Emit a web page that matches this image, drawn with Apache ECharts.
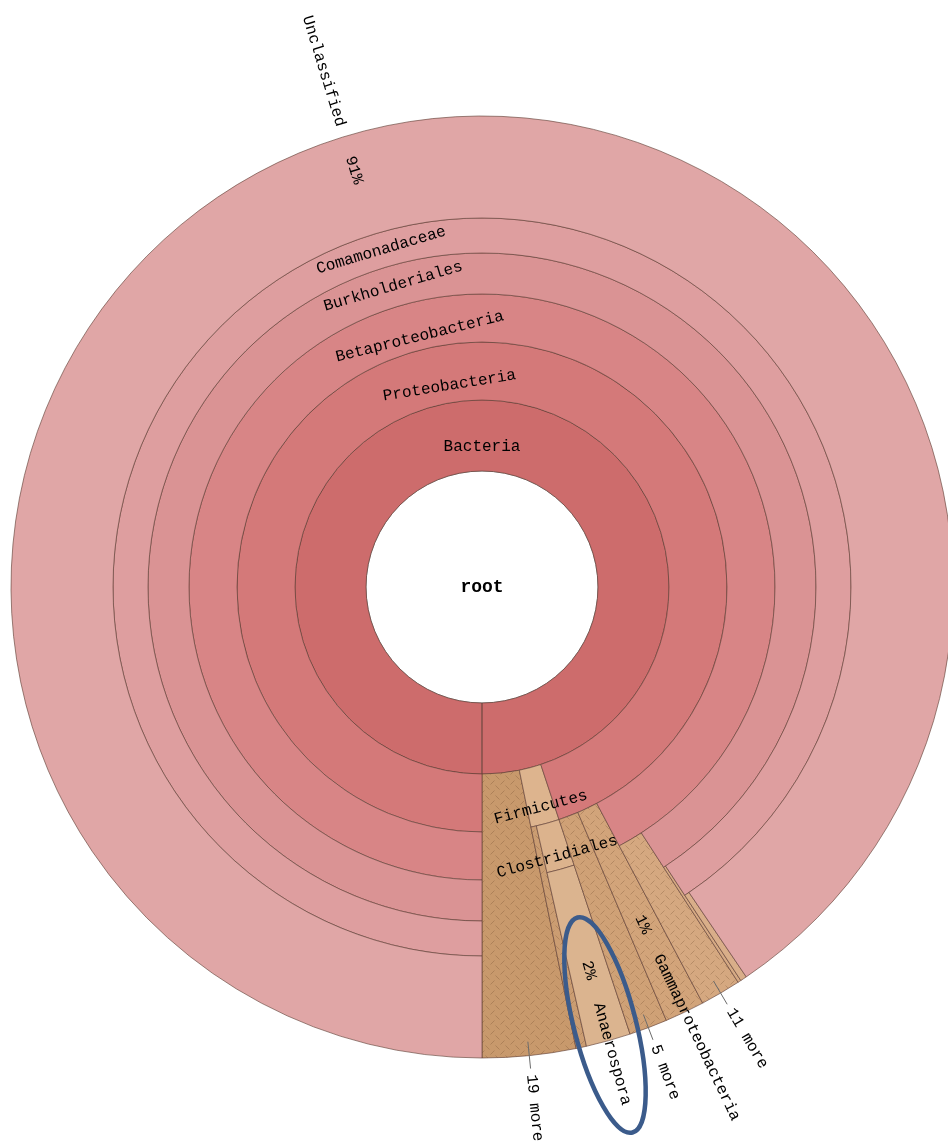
<!DOCTYPE html>
<html>
<head>
<meta charset="utf-8">
<script src="https://cdn.jsdelivr.net/npm/echarts@6/dist/echarts.min.js"></script>
<style>
html,body{margin:0;padding:0;background:#ffffff;}
#chart{width:948px;height:1144px;}
</style>
</head>
<body>
<div id="chart"></div>
<script>
// ---------------- DATA (Krona-style taxonomy, values in per-mille of all reads) ----------------
const nodeNames   = ['root','Bacteria','19 more','Firmicutes','','Clostridiales','Anaerospora',
                     'Proteobacteria','5 more','Gammaproteobacteria','Betaproteobacteria','11 more',
                     'Burkholderiales','','Comamonadaceae','','Unclassified'];
const nodeParents = [-1, 0, 1, 1, 3, 3, 5, 1, 7, 7, 7, 10, 10, 12, 12, 14, 14];
// magnitude of each leaf (internal nodes are the sum of their children)
const leafValues  = [null, null, 32.0, null, 3.6, null, 15.3, null, 13.1, 13.6, null, 13.9,
                     null, 1.1, null, 2.2, 905.2];
// wedges that stand for collapsed groups of small taxa ("N more")
const groupedNodes = [false,false,true,false,true,false,false,false,true,false,false,true,
                      false,false,false,false,false];

// ---------------- STYLE / LAYOUT CONFIG ----------------
const FONT = '"Liberation Mono", "DejaVu Sans Mono", monospace';
const R_OUT = 471;
const RINGS = [0, 116, 187, 245, 293, 334, 369];   // inner radius of each depth
const LABEL_SHIFT = [0, 11, 12, 11, 0, 0, 0];       // tangential label drop per depth
const BORDER = 'rgba(95,62,52,0.62)';
const nodeColors = ['#ffffff','#cd6c6c','#c8996c','#ddb48e','#cb9d72','#dcb38d','#dbb48f',
                    '#d47979','#cfa176','#d2a47a','#d88586','#d5a880',
                    '#da9394','#d6aa84','#de9e9f','#d9ae89','#e0a6a6'];
const hatchNodes = [false,false,true,false,true,false,false,false,true,true,false,true,
                    false,false,false,false,false];

// ---------------- BUILD TREE LAYOUT VALUES ----------------
const N = nodeNames.length;
const children = nodeNames.map(() => []);
nodeParents.forEach((p, i) => { if (p >= 0) children[p].push(i); });
const depth = new Array(N), value = new Array(N), start = new Array(N);
(function setDepth(i, d) { depth[i] = d; children[i].forEach(c => setDepth(c, d + 1)); })(0, 0);
(function sum(i) {
  if (!children[i].length) return (value[i] = leafValues[i]);
  let s = 0; children[i].forEach(c => { s += sum(c); }); return (value[i] = s);
})(0);
(function place(i, a) {
  start[i] = a; let acc = a;
  children[i].forEach(c => { place(c, acc); acc += value[c]; });
})(0, 0);
const TOTAL = value[0];

function makeHatch() {
  const c = document.createElement('canvas');
  c.width = 10; c.height = 10;
  const g = c.getContext('2d');
  g.strokeStyle = 'rgba(105,68,40,0.28)';
  g.lineWidth = 1;
  g.beginPath();
  g.moveTo(0.5, 4.5); g.lineTo(4.5, 0.5);
  g.moveTo(5.5, 5.5); g.lineTo(9.5, 9.5);
  g.stroke();
  return c;
}
const hatchImg = makeHatch();

const seriesData = nodeNames.map((n, i) => ({
  name: n,
  value: [start[i], start[i] + value[i], depth[i], children[i].length ? 0 : 1, i]
}));

function txt(x, y, rot, text, align) {
  return {
    type: 'text', x: x, y: y, rotation: rot, silent: true, z2: 100,
    style: { text: text, x: 0, y: 0, fill: '#000', fontSize: 16, fontFamily: FONT,
             align: align, verticalAlign: 'middle' }
  };
}

function renderItem(params, api) {
  const i = api.value(4);
  const a0 = api.value(0), a1 = api.value(1), d = api.value(2), leaf = api.value(3) === 1;
  const cx = params.coordSys.cx, cy = params.coordSys.cy;
  const ang = a => { const p = api.coord([R_OUT, a]); return Math.atan2(p[1] - cy, p[0] - cx); };
  const rad = r => { const p = api.coord([r, 0]); return Math.hypot(p[0] - cx, p[1] - cy); };
  const els = [];
  if (d === 0) {
    els.push({ type: 'circle', shape: { cx: cx, cy: cy, r: rad(RINGS[1]) },
               style: { fill: '#ffffff', stroke: '#8a8a8a', lineWidth: 1 } });
    const t = txt(cx, cy, 0, nodeNames[i], 'center');
    t.style.fontSize = 18; t.style.fontWeight = 'bold';
    els.push(t);
    return { type: 'group', children: els };
  }
  let sa = ang(a0), ea = ang(a1);
  if (a1 - a0 >= TOTAL - 1e-9) ea = sa - 2 * Math.PI + 0.0005;
  else { while (ea >= sa) ea -= 2 * Math.PI; while (ea < sa - 2 * Math.PI) ea += 2 * Math.PI; }
  const r0 = rad(RINGS[d]);
  const r1 = leaf ? rad(R_OUT) : rad(RINGS[d + 1] != null ? RINGS[d + 1] : R_OUT);
  const shape = { cx: cx, cy: cy, r0: r0, r: r1, startAngle: sa, endAngle: ea, clockwise: false };
  els.push({ type: 'sector', shape: shape, style: { fill: nodeColors[i], stroke: BORDER, lineWidth: 1 } });
  if (hatchNodes[i]) {
    els.push({ type: 'sector', shape: Object.assign({}, shape),
               style: { fill: { image: hatchImg, repeat: 'repeat' }, stroke: null } });
  }
  const name = nodeNames[i];
  if (!name) return { type: 'group', children: els };
  const phi = ang((a0 + a1) / 2);
  const cosP = Math.cos(phi), sinP = Math.sin(phi);
  const at = r => [cx + r * cosP, cy + r * sinP];
  if (!leaf) {
    const rm = (r0 + r1) / 2;
    let dir = phi + Math.PI / 2;
    if (Math.cos(dir) < 0) dir += Math.PI;
    const p = at(rm);
    const t = txt(p[0], p[1], -dir, name, 'center');
    t.style.y = LABEL_SHIFT[d];
    els.push(t);
    return { type: 'group', children: els };
  }
  // radial labels for leaves
  let dir = phi, flip = false;
  if (Math.cos(dir) < 0) { dir += Math.PI; flip = true; }
  const arcLen = (a1 - a0) / TOTAL * 2 * Math.PI * 460;
  if (groupedNodes[i]) {
    if (arcLen < 14) return { type: 'group', children: els };
    const pA = at(rad(457)), pB = at(rad(484));
    els.push({ type: 'line', silent: true, z2: 100, shape: { x1: pA[0], y1: pA[1], x2: pB[0], y2: pB[1] },
               style: { stroke: '#6b6b6b', lineWidth: 1 } });
    const p = at(rad(490));
    els.push(txt(p[0], p[1], -dir, name, flip ? 'right' : 'left'));
    return { type: 'group', children: els };
  }
  const colMid = (r0 + r1) / 2;
  const pct = Math.round(value[i] / TOTAL * 100) + '%';
  const pp = at(colMid + 16);
  els.push(txt(pp[0], pp[1], -dir, pct, 'center'));
  const wide = (a1 - a0) > TOTAL / 4;
  const rs = wide ? r1 + 11 : colMid + 50;
  const pn = at(rs);
  els.push(txt(pn[0], pn[1], -dir, name, flip ? 'right' : 'left'));
  return { type: 'group', children: els };
}

const chart = echarts.init(document.getElementById('chart'), null, { renderer: 'canvas' });
chart.setOption({
  backgroundColor: '#ffffff',
  animation: false,
  polar: { center: [482, 587], radius: [0, R_OUT] },
  angleAxis: { type: 'value', min: 0, max: TOTAL, startAngle: -90, clockwise: false, show: false,
               axisLine: { show: false }, axisTick: { show: false }, axisLabel: { show: false },
               splitLine: { show: false } },
  radiusAxis: { type: 'value', min: 0, max: R_OUT, show: false,
                axisLine: { show: false }, axisTick: { show: false }, axisLabel: { show: false },
                splitLine: { show: false } },
  series: [{
    type: 'custom',
    coordinateSystem: 'polar',
    silent: true,
    data: seriesData,
    renderItem: renderItem
  }],
  graphic: [{
    type: 'ellipse', z: 100, silent: true,
    x: 605, y: 1025, rotation: 0.25,
    shape: { cx: 0, cy: 0, rx: 31, ry: 111 },
    style: { fill: 'none', stroke: '#3b5b8b', lineWidth: 4.5 }
  }]
});
</script>
</body>
</html>
